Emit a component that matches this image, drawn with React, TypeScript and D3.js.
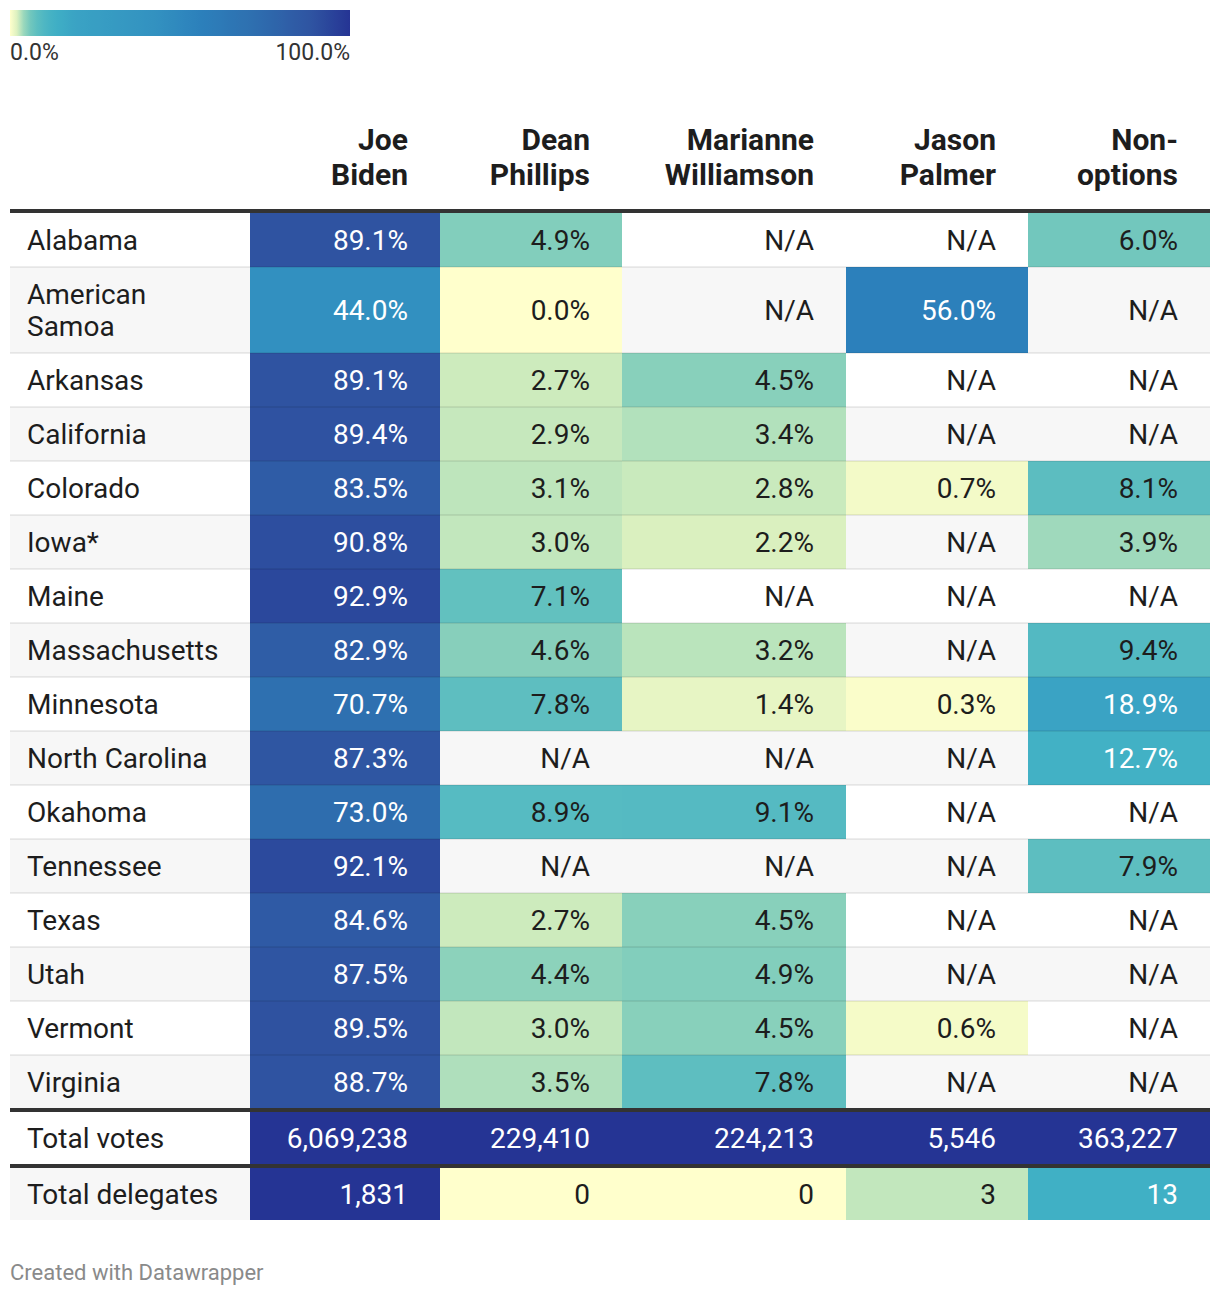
import React from "react";
import * as d3 from "d3";

const candidates = ["Joe\nBiden", "Dean\nPhillips", "Marianne\nWilliamson", "Jason\nPalmer", "Non-\noptions"];
const states = ["Alabama", "American\nSamoa", "Arkansas", "California", "Colorado", "Iowa*", "Maine", "Massachusetts", "Minnesota", "North Carolina", "Okahoma", "Tennessee", "Texas", "Utah", "Vermont", "Virginia"];
const biden = [89.1, 44.0, 89.1, 89.4, 83.5, 90.8, 92.9, 82.9, 70.7, 87.3, 73.0, 92.1, 84.6, 87.5, 89.5, 88.7];
const phillips = [4.9, 0.0, 2.7, 2.9, 3.1, 3.0, 7.1, 4.6, 7.8, null, 8.9, null, 2.7, 4.4, 3.0, 3.5];
const williamson = [null, null, 4.5, 3.4, 2.8, 2.2, null, 3.2, 1.4, null, 9.1, null, 4.5, 4.9, 4.5, 7.8];
const palmer = [null, 56.0, null, null, 0.7, null, null, null, 0.3, null, null, null, null, null, 0.6, null];
const nonOptions = [6.0, null, null, null, 8.1, 3.9, null, 9.4, 18.9, 12.7, null, 7.9, null, null, null, null];
const totalVotes = [6069238, 229410, 224213, 5546, 363227];
const totalDelegates = [1831, 0, 0, 3, 13];
const legendTicks = ["0.0%", "100.0%"];

const series = [biden, phillips, williamson, palmer, nonOptions];

const colorStops = [0, 2.5, 4.5, 7, 10, 13, 19, 44, 56, 71, 89, 100];
const colorRange = ["#ffffcc", "#d5eebd", "#88d0bb", "#63c1bf", "#4fb7c3", "#40b0c5", "#3aa3c4", "#3290c0", "#2c80bb", "#2e70b0", "#2f53a1", "#253494"];

const FONT = "Roboto, 'Noto Sans', sans-serif";

export default function App() {
  const color = d3.scaleLinear<string>().domain(colorStops).range(colorRange).interpolate(d3.interpolateRgb).clamp(true);
  const textColor = (bg: string) => (d3.lab(bg).l < 68.5 ? "#ffffff" : "#1d1d1d");

  const left = 10;
  const colWidths = [240, 190, 182, 224, 182, 182];
  const colX = d3.cumsum([left, ...colWidths]);
  const width = 1220;
  const height = 1296;
  const pad = 32;
  const fs = 28;

  const lineH = 54;
  const extraLine = 32;
  const headerLineY = 209;
  const bodyTop = 213;
  const rowHeights = states.map((s) => lineH + (s.split("\n").length - 1) * extraLine);
  const rowYs = [bodyTop, ...d3.cumsum(rowHeights).map((v) => bodyTop + v)];
  const bodyEnd = rowYs[rowYs.length - 1];
  const thick = 4;
  const totLine1 = bodyEnd - 1;
  const totRow1 = totLine1 + thick;
  const totH = 52;
  const totLine2 = totRow1 + totH;
  const totRow2 = totLine2 + thick;

  const fmtPct = (v: number) => d3.format(".1f")(v) + "%";
  const fmtNum = d3.format(",");

  const legendX = d3.scaleLinear().domain([0, 100]).range([10, 350]);
  const gradStops = d3.range(0, 101, 2);

  const cells: React.ReactNode[] = [];

  states.forEach((s, i) => {
    const y0 = rowYs[i];
    const h = rowHeights[i];
    const stripe = i % 2 === 0 ? "#ffffff" : "#f7f7f7";
    cells.push(<rect key={"bg" + i} x={left} y={y0} width={1200} height={h} fill={stripe} />);
    const lines = s.split("\n");
    lines.forEach((ln, k) => (
      cells.push(
        <text key={"lab" + i + "-" + k} x={27} y={y0 + h / 2 + (k - (lines.length - 1) / 2) * 32} dy="0.35em" fontSize={fs} fill="#1d1d1d" fontFamily={FONT}>{ln}</text>
      )
    ));
    series.forEach((ser, j) => {
      const v = ser[i];
      const x0 = colX[j + 1];
      const w = colWidths[j + 1];
      let fill = stripe;
      if (v !== null) fill = color(v);
      if (v !== null) cells.push(<rect key={"c" + i + "-" + j} x={x0} y={y0} width={w} height={h} fill={fill} />);
      cells.push(
        <text key={"t" + i + "-" + j} x={x0 + w - pad} y={y0 + h / 2} dy="0.35em" textAnchor="end" fontSize={fs} fill={v === null ? "#1d1d1d" : textColor(fill)} fontFamily={FONT}>
          {v === null ? "N/A" : fmtPct(v)}
        </text>
      );
    });
  });

  const seps = rowYs.slice(1, -1).map((y, i) => (
    <rect key={"sep" + i} x={left} y={y - 1} width={1200} height={2} fill="rgba(0,0,0,0.07)" />
  ));

  const totals = [
    { label: "Total votes", vals: totalVotes, y: totRow1, bg: "#ffffff" },
    { label: "Total delegates", vals: totalDelegates, y: totRow2, bg: "#f7f7f7" },
  ];

  const totalCells = totals.map((t, i) => (
    <g key={"tot" + i}>
      <rect x={left} y={t.y} width={1200} height={totH} fill={t.bg} />
      <text x={27} y={t.y + totH / 2} dy="0.35em" fontSize={fs} fill="#1d1d1d" fontFamily={FONT}>{t.label}</text>
      {t.vals.map((v, j) => {
        const fill = color(v);
        return (
          <g key={j}>
            <rect x={colX[j + 1]} y={t.y} width={colWidths[j + 1]} height={totH} fill={fill} />
            <text x={colX[j + 1] + colWidths[j + 1] - pad} y={t.y + totH / 2} dy="0.35em" textAnchor="end" fontSize={fs} fill={textColor(fill)} fontFamily={FONT}>{fmtNum(v)}</text>
          </g>
        );
      })}
    </g>
  ));

  return (
    <svg width={width} height={height} style={{ display: "block", margin: "-8px" }} viewBox={`0 0 ${width} ${height}`}>
      <defs>
        <linearGradient id="legendGrad" x1="0" x2="1" y1="0" y2="0">
          {gradStops.map((v) => (
            <stop key={v} offset={`${v}%`} stopColor={color(v)} />
          ))}
        </linearGradient>
      </defs>
      <rect x={0} y={0} width={width} height={height} fill="#ffffff" />
      <rect x={legendX(0)} y={10} width={legendX(100) - legendX(0)} height={26} fill="url(#legendGrad)" />
      <text x={legendX(0)} y={60} fontSize={23} fill="#333333" fontFamily={FONT}>{legendTicks[0]}</text>
      <text x={legendX(100)} y={60} fontSize={23} fill="#333333" textAnchor="end" fontFamily={FONT}>{legendTicks[1]}</text>

      {candidates.map((c, j) => (
        <text key={"h" + j} textAnchor="end" fontSize={30} fontWeight={700} fill="#1d1d1d" fontFamily={FONT}>
          {c.split("\n").map((ln, k) => (
            <tspan key={k} x={colX[j + 1] + colWidths[j + 1] - pad} y={150 + k * 35}>{ln}</tspan>
          ))}
        </text>
      ))}

      {cells}
      {seps}
      <rect x={left} y={headerLineY} width={1200} height={thick} fill="#333333" />
      {totalCells}
      <rect x={left} y={totLine1} width={1200} height={thick} fill="#333333" />
      <rect x={left} y={totLine2} width={1200} height={thick} fill="#333333" />

      <text x={10} y={1280} fontSize={22} fill="#8a8a8a" fontFamily={FONT}>Created with Datawrapper</text>
    </svg>
  );
}
